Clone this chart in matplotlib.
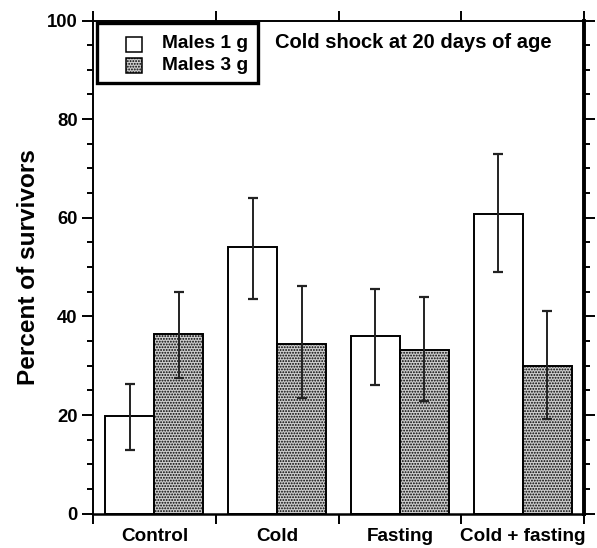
import matplotlib
matplotlib.use("Agg")
import matplotlib.pyplot as plt
import numpy as np
from matplotlib.patches import Rectangle

categories = ["Control", "Cold", "Fasting", "Cold + fasting"]
series_names = ["Males 1 g", "Males 3 g"]
males1 = [19.8, 54.0, 36.0, 60.8]
males1_lo = [13.0, 43.5, 26.0, 49.0]
males1_hi = [26.3, 64.0, 45.5, 73.0]
males3 = [36.5, 34.5, 33.2, 30.0]
males3_lo = [27.5, 23.5, 22.8, 19.3]
males3_hi = [45.0, 46.2, 44.0, 41.0]
yticks = [0, 20, 40, 60, 80, 100]
title_text = "Cold shock at 20 days of age"
ylabel_text = "Percent of survivors"

plt.rcParams['font.family'] = ['Liberation Sans', 'DejaVu Sans']
plt.rcParams['font.weight'] = 'bold'
plt.rcParams['hatch.color'] = '#333333'
plt.rcParams['hatch.linewidth'] = 0.9

W, H = 597, 548
fig = plt.figure(figsize=(W/100, H/100), dpi=100)
L, R, B, T = 93, 584, 513.7, 20.5
ax = fig.add_axes([L/W, (H-B)/H, (R-L)/W, (B-T)/H])

gray_face = '#cccccc'
hatch_pat = '......'

x = np.arange(len(categories))
w = 0.4
m1 = np.array(males1); m3 = np.array(males3)
err1 = [m1 - np.array(males1_lo), np.array(males1_hi) - m1]
err3 = [m3 - np.array(males3_lo), np.array(males3_hi) - m3]
ax.bar(x - w/2, m1, w, color='white', edgecolor='black', linewidth=1.4, zorder=2)
ax.bar(x + w/2, m3, w, color=gray_face, edgecolor='black', linewidth=1.4, hatch=hatch_pat, zorder=2)
ax.errorbar(x - w/2, m1, yerr=err1, fmt='none', ecolor='#222222', elinewidth=1.4, capsize=3.5, capthick=1.6, zorder=3)
ax.errorbar(x + w/2, m3, yerr=err3, fmt='none', ecolor='#222222', elinewidth=1.4, capsize=3.5, capthick=1.6, zorder=3)

ax.set_xlim(-0.5, len(categories) - 0.5)
ax.set_ylim(0, 100)
ax.set_yticks(yticks)
ax.set_yticks(np.arange(0, 101, 5), minor=True)
ax.set_xticks(np.arange(-0.5, len(categories), 1.0))
ax.set_xticklabels([])
ax.set_xticks(x, minor=True)
ax.set_xticklabels(categories, minor=True, fontsize=13.6, fontweight='bold')
ax.tick_params(axis='x', which='minor', length=0, pad=10)
ax.tick_params(axis='x', which='major', direction='out', length=7, width=1.4, top=True)
ax.tick_params(axis='y', which='major', direction='out', length=8, width=1.4, right=True, labelsize=13.3, pad=3)
ax.tick_params(axis='y', which='minor', direction='out', length=4, width=1.4, right=True)
for lab in ax.get_yticklabels():
    lab.set_fontweight('bold')

ax.spines['left'].set_linewidth(1.4)
ax.spines['top'].set_linewidth(1.4)
ax.spines['bottom'].set_linewidth(1.8)
ax.spines['right'].set_linewidth(2.8)

ax.set_ylabel(ylabel_text, fontsize=17.6, fontweight='bold', labelpad=5)
ax.text((552 - L)/(R - L), (B - 43)/(B - T), title_text, transform=ax.transAxes,
        ha='right', va='center', fontsize=14.5, fontweight='bold')

# legend drawn in figure pixel coordinates
def fx(px):
    return px / W
def fy(py):
    return (H - py) / H

fig.add_artist(Rectangle((fx(97), fy(83)), (258-97)/W, (83-23)/H, transform=fig.transFigure,
                         facecolor='white', edgecolor='black', linewidth=2.4, zorder=5))
faces = ['white', gray_face]
hatches = [None, hatch_pat]
rows_y = [44, 65]
for name, fc, hp, ry in zip(series_names, faces, hatches, rows_y):
    fig.add_artist(Rectangle((fx(126), fy(ry + 7.5)), 16/W, 15/H, transform=fig.transFigure,
                             facecolor=fc, edgecolor='black', linewidth=1.1, hatch=hp, zorder=6))
    fig.text(fx(162), fy(ry), name, ha='left', va='center', fontsize=13.8,
             fontweight='bold', zorder=7)

fig.savefig("out.png", dpi=100)
